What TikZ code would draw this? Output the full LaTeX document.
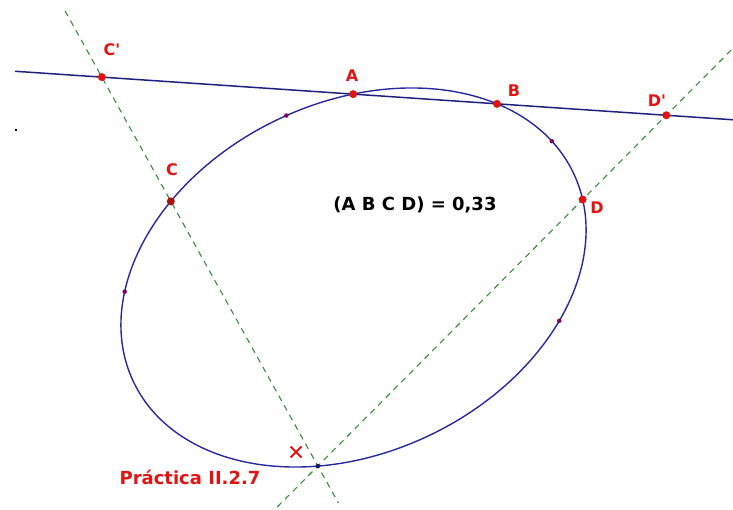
\documentclass[tikz,border=0pt]{standalone}
\usepackage{fontspec}
\setmainfont{DejaVu Sans}
\usetikzlibrary{calc}
\definecolor{conicblue}{RGB}{40,40,160}
\definecolor{dashgreen}{RGB}{60,140,60}
\definecolor{ptred}{RGB}{225,20,20}
\definecolor{smallpt}{RGB}{130,0,90}
\tikzset{
  conic/.style={conicblue, line width=1.4pt},
  secline/.style={conicblue!80!black, line width=1.5pt},
  greenline/.style={dashgreen, line width=1.1pt, dash pattern=on 6pt off 5pt},
  bigpt/.style={circle, fill=ptred, inner sep=0pt, minimum size=8pt},
  tinypt/.style={circle, fill=smallpt, inner sep=0pt, minimum size=4.5pt},
  lbl/.style={text=ptred, font=\fontsize{16}{19}\selectfont\bfseries, inner sep=0pt},
  bigtext/.style={font=\fontsize{18}{21}\selectfont\bfseries, inner sep=0pt}
}
\begin{document}
\begin{tikzpicture}[x=1pt,y=1pt]
\useasboundingbox (0,0) rectangle (733,509);
% conic
\begin{scope}[shift={(353.5,231.5)}, rotate=25.3]
  \draw[conic] (0,0) ellipse [x radius=243.5, y radius=175.2];
  \coordinate (A) at (71.3:243.5 and 175.2);
  \coordinate (B) at (33.1:243.5 and 175.2);
  \coordinate (C) at (123:243.5 and 175.2);
  \coordinate (D) at (-9:243.5 and 175.2);
  \coordinate (X) at (242.4:243.5 and 175.2);
  \coordinate (P1) at (88:243.5 and 175.2);
  \coordinate (P2) at (12.7:243.5 and 175.2);
  \coordinate (P3) at (151:243.5 and 175.2);
  \coordinate (P4) at (-46.5:243.5 and 175.2);
\end{scope}
% derived points
\coordinate (Cp) at (intersection of X--C and A--B);
\coordinate (Dp) at (intersection of X--D and A--B);
\coordinate (L1) at (intersection of A--B and 15,0--15,10);
\coordinate (L2) at (intersection of A--B and 733,0--733,10);
\coordinate (G1a) at (intersection of X--C and 0,498--10,498);
\coordinate (G1b) at (intersection of X--C and 0,6--10,6);
\coordinate (G2a) at (intersection of X--D and 0,2--10,2);
\coordinate (G2b) at (intersection of X--D and 0,467--10,467);
% lines
\draw[secline] (L1) -- (L2);
\draw[greenline] (G1a) -- (G1b);
\draw[greenline] (G2a) -- (G2b);
% points
\node[bigpt] (nCp) at (Cp) {};
\node[bigpt] (nDp) at (Dp) {};
\node[bigpt] (nA) at (A) {};
\node[bigpt] (nB) at (B) {};
\node[bigpt, fill=ptred!75!black] (nC) at (C) {};
\node[bigpt] (nD) at (D) {};
\node[tinypt] (nP1) at (P1) {};
\node[tinypt] (nP2) at (P2) {};
\node[tinypt] (nP3) at (P3) {};
\node[tinypt] (nP4) at (P4) {};
\node[circle, fill=conicblue!60!black, inner sep=0pt, minimum size=4.5pt] (nX) at (X) {};
\node[fill=black, inner sep=0pt, minimum size=2pt] (dot) at (16,379) {};
% labels
\node[lbl] (tCp) at (112,459) {C\textquotesingle};
\node[lbl] (tA) at (352,433) {A};
\node[lbl] (tB) at (514,418) {B};
\node[lbl] (tDp) at (657,408) {D\textquotesingle};
\node[lbl] (tC) at (172,339) {C};
\node[lbl] (tD) at (597,301) {D};
\node[bigtext] (ratio) at (415,304) {(A B C D) = 0,33};
\node[bigtext, text=ptred] (title) at (190,32) {Práctica II.2.7};
% red cross
\coordinate (xm) at (296,57);
\draw[ptred, line width=2pt] ($(xm)+(-5.5,-5.5)$) -- ($(xm)+(5.5,5.5)$);
\draw[ptred, line width=2pt] ($(xm)+(-5.5,5.5)$) -- ($(xm)+(5.5,-5.5)$);
\end{tikzpicture}
\end{document}
